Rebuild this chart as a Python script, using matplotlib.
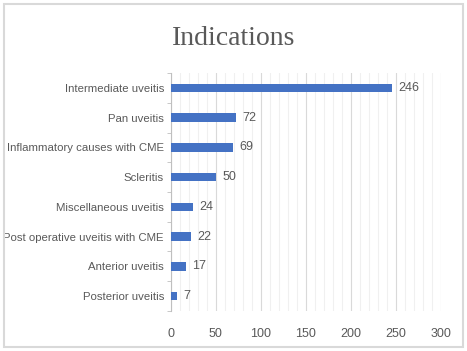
import matplotlib.pyplot as plt
import numpy as np
from matplotlib.patches import Rectangle

# Dữ liệu
categories = ['Intermediate uveitis', 'Pan uveitis', 'Inflammatory causes with CME',
              'Scleritis', 'Miscellaneous uveitis', 'Post operative uveitis with CME',
              'Anterior uveitis', 'Posterior uveitis']
counts = [246, 72, 69, 50, 24, 22, 17, 7]
xticks = [0, 50, 100, 150, 200, 250, 300]

text_color = '#595959'
bar_color = '#4472C4'
label_font = ['Liberation Sans Narrow', 'Liberation Sans', 'DejaVu Sans']
fs = 8.2

fig = plt.figure(figsize=(4.67, 3.51), dpi=100)
ax = fig.add_axes([0.366, 0.114, 0.578, 0.678])

y = np.arange(len(categories))[::-1]
ax.barh(y, counts, height=0.28, color=bar_color, zorder=3)
for yi, c in zip(y, counts):
    ax.text(c + 7, yi, str(c), va='center', ha='left', fontsize=fs + 0.8,
            color=text_color, family=label_font)

ax.set_xlim(0, 300)
ax.set_ylim(-0.5, len(categories) - 0.5)
ax.set_xticks(xticks)
ax.set_xticklabels([str(t) for t in xticks], family=label_font, fontsize=fs + 0.8, color=text_color)
ax.set_xticks(np.arange(0, 301, 10), minor=True)
ax.grid(axis='x', which='major', color='#D9D9D9', linewidth=0.8, zorder=0)
ax.grid(axis='x', which='minor', color='#F0F0F0', linewidth=0.8, zorder=0)
ax.tick_params(axis='x', which='both', length=0, pad=12)

ax.set_yticks(y)
ax.set_yticklabels(categories, family=label_font, fontsize=fs, color=text_color)
ax.set_yticks(np.arange(-0.5, len(categories), 1), minor=True)
ax.tick_params(axis='y', which='major', length=0, pad=5)
ax.tick_params(axis='y', which='minor', length=3, color='#BFBFBF')

for s in ['top', 'right', 'bottom']:
    ax.spines[s].set_visible(False)
ax.spines['left'].set_color('#BFBFBF')

fig.text(0.5, 0.89, 'Indications', ha='center', va='center', fontsize=20,
         color=text_color, family=['Liberation Serif', 'DejaVu Serif'])

# Khung viền quanh biểu đồ
fig.patches.append(Rectangle((4 / 467, 4 / 351), 459 / 467, 343 / 351,
                             transform=fig.transFigure, fill=False,
                             edgecolor='#D9D9D9', linewidth=1.5))

fig.savefig('out.png', dpi=100)
